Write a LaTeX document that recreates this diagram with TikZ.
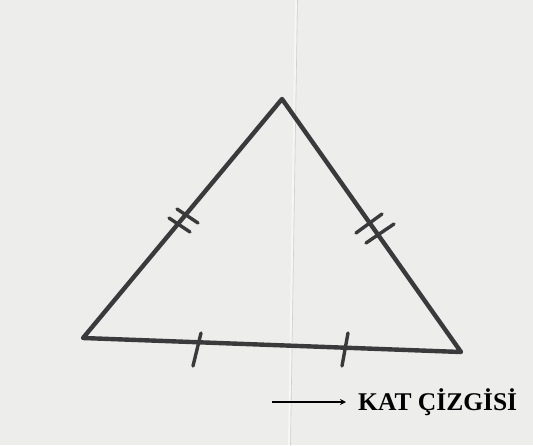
\documentclass[tikz,border=0pt]{standalone}
\usepackage{fontspec}
\setmainfont{Liberation Serif}
\usetikzlibrary{arrows.meta}
\definecolor{paper}{HTML}{EDEDEB}
\definecolor{pencil}{HTML}{3A3A3C}
\tikzset{
  side/.style={draw=pencil, line width=4.4pt, line cap=round, line join=round},
  tick/.style={draw=pencil, line width=3.4pt, line cap=round},
  fold/.style={draw=white, line width=2pt, opacity=0.5},
  label/.style={font=\bfseries\fontsize{25.5}{28}\selectfont, text=black, inner sep=0pt, anchor=base west}
}
\begin{document}
\begin{tikzpicture}[x=1pt,y=-1pt]
\fill[paper] (0,0) rectangle (533,445);
\useasboundingbox (0,0) rectangle (533,445);
% fold line (crease)
\coordinate (f1) at (296,0);
\coordinate (f2) at (289,445);
\draw[fold] (f1) -- (f2);
\draw[draw=gray!60, line width=0.6pt, opacity=0.5] (297.5,0) -- (290.5,445);
% vertices
\coordinate (A) at (282,99);
\coordinate (B) at (83,338);
\coordinate (C) at (461,352);
\draw[side] (A) -- (B) -- (C) -- cycle;
% double ticks on left side
\coordinate (l1a) at (169,218); \coordinate (l1b) at (190,232);
\coordinate (l2a) at (177,209); \coordinate (l2b) at (198,223);
\draw[tick] (l1a) -- (l1b);
\draw[tick] (l2a) -- (l2b);
% double ticks on right side
\coordinate (r1a) at (356,233); \coordinate (r1b) at (382,214);
\coordinate (r2a) at (366,243); \coordinate (r2b) at (394,224);
\draw[tick] (r1a) -- (r1b);
\draw[tick] (r2a) -- (r2b);
% single ticks on base
\coordinate (b1a) at (201,333); \coordinate (b1b) at (193,366);
\coordinate (b2a) at (348,333); \coordinate (b2b) at (342,366);
\draw[tick] (b1a) -- (b1b);
\draw[tick] (b2a) -- (b2b);
% caption
\coordinate (arrS) at (272,402);
\node[label] (cap) at (358,410) {KAT ÇİZGİSİ};
\draw[line width=1.5pt, -{Stealth[length=6pt,width=6pt]}] (arrS) -- ([xshift=-12pt]cap.west |- arrS);
\end{tikzpicture}
\end{document}
